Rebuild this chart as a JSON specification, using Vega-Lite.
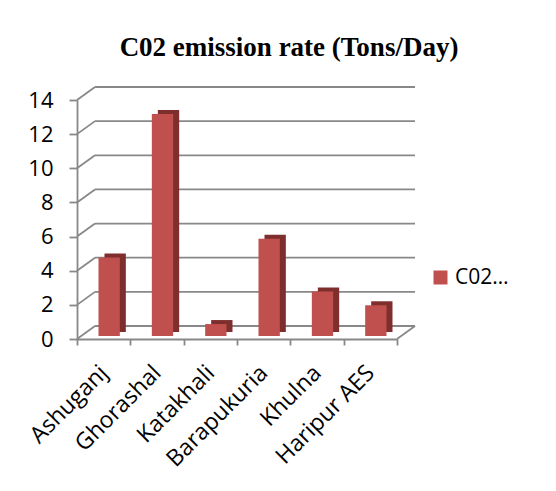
{
  "$schema": "https://vega.github.io/schema/vega-lite/v6.json",
  "width": 320,
  "height": 239,
  "autosize": {"type": "none"},
  "padding": {"left": 77, "top": 100, "right": 159, "bottom": 152},
  "background": "white",
  "title": {
    "text": "C02 emission rate (Tons/Day)",
    "font": "Liberation Serif",
    "fontSize": 27,
    "fontWeight": "bold",
    "color": "black",
    "anchor": "middle",
    "dx": 52,
    "offset": 24
  },
  "datasets": {
    "plants": [
      {"plant": "Ashuganj", "value": 4.6, "series": "C02 emission rate (Tons/Day)"},
      {"plant": "Ghorashal", "value": 13, "series": "C02 emission rate (Tons/Day)"},
      {"plant": "Katakhali", "value": 0.7, "series": "C02 emission rate (Tons/Day)"},
      {"plant": "Barapukuria", "value": 5.7, "series": "C02 emission rate (Tons/Day)"},
      {"plant": "Khulna", "value": 2.6, "series": "C02 emission rate (Tons/Day)"},
      {"plant": "Haripur AES", "value": 1.8, "series": "C02 emission rate (Tons/Day)"}
    ],
    "ticks": [{"t": 0}, {"t": 2}, {"t": 4}, {"t": 6}, {"t": 8}, {"t": 10}, {"t": 12}, {"t": 14}]
  },
  "config": {
    "view": {"stroke": null},
    "font": "Open Sans",
    "axis": {"labelOverlap": false, "labelFlush": false, "labelSeparation": 0, "labelBound": false},
    "axisY": {
      "title": null,
      "values": [0, 2, 4, 6, 8, 10, 12, 14],
      "labelOverlap": false,
      "labelFlush": false,
      "labelFont": "Open Sans",
      "labelFontSize": 22,
      "labelColor": "black",
      "labelPadding": 16,
      "tickSize": 8,
      "tickColor": "#888888",
      "tickWidth": 1.8,
      "domainColor": "#888888",
      "domainWidth": 1.8,
      "grid": false
    },
    "axisX": {
      "title": null,
      "labelAngle": -45,
      "labelAlign": "right",
      "labelBaseline": "middle",
      "labelFont": "Open Sans",
      "labelFontSize": 23,
      "labelColor": "black",
      "labelPadding": 24,
      "labelOverlap": false,
      "labelLimit": 300,
      "tickBand": "extent",
      "tickSize": 6,
      "tickColor": "#888888",
      "tickWidth": 1.8,
      "domainColor": "#888888",
      "domainWidth": 1.8,
      "grid": false
    }
  },
  "layer": [
    {
      "data": {"name": "ticks"},
      "mark": {"type": "rule", "color": "#888888", "strokeWidth": 1.8, "yOffset": -13},
      "encoding": {
        "x": {"datum": "Ashuganj", "bandPosition": 0.3375, "type": "nominal", "title": null},
        "x2": {"datum": "Haripur AES", "bandPosition": 1.3375},
        "y": {"field": "t", "type": "quantitative", "title": null}
      }
    },
    {
      "data": {"name": "ticks"},
      "mark": {"type": "rule", "color": "#888888", "strokeWidth": 1.8, "y2Offset": -13},
      "encoding": {
        "x": {"datum": "Ashuganj", "bandPosition": 0, "type": "nominal", "title": null},
        "x2": {"datum": "Ashuganj", "bandPosition": 0.3375},
        "y": {"field": "t", "type": "quantitative", "title": null},
        "y2": {"field": "t"}
      }
    },
    {
      "data": {"name": "ticks"},
      "transform": [{"filter": "datum.t == 0"}],
      "mark": {"type": "rule", "color": "#888888", "strokeWidth": 1.8, "y2Offset": -13},
      "encoding": {
        "x": {"datum": "Haripur AES", "bandPosition": 1, "type": "nominal", "title": null},
        "x2": {"datum": "Haripur AES", "bandPosition": 1.3375},
        "y": {"field": "t", "type": "quantitative", "title": null},
        "y2": {"field": "t"}
      }
    },
    {
      "data": {"name": "plants"},
      "mark": {"type": "bar", "color": "#7e2f2d", "width": {"band": 0.4}, "xOffset": 11.5, "x2Offset": 11.5, "yOffset": -7, "y2Offset": -7},
      "encoding": {
        "x": {"field": "plant", "type": "nominal", "title": null},
        "y": {"field": "value", "type": "quantitative", "title": null}
      }
    },
    {
      "data": {"name": "plants"},
      "mark": {"type": "bar", "width": {"band": 0.4}, "xOffset": 5.5, "x2Offset": 5.5, "yOffset": -3, "y2Offset": -3},
      "encoding": {
        "x": {
          "field": "plant",
          "type": "nominal",
          "title": null,
          "scale": {
            "domain": ["Ashuganj", "Ghorashal", "Katakhali", "Barapukuria", "Khulna", "Haripur AES"],
            "paddingInner": 0,
            "paddingOuter": 0
          }
        },
        "y": {
          "field": "value",
          "type": "quantitative",
          "title": null,
          "scale": {"domain": [0, 14], "nice": false, "zero": true}
        },
        "color": {
          "field": "series",
          "type": "nominal",
          "scale": {"range": ["#c0504d"]},
          "legend": {
            "title": null,
            "orient": "none",
            "legendX": 353,
            "legendY": 167,
            "symbolType": "square",
            "symbolSize": 196,
            "symbolStrokeWidth": 0,
            "symbolOpacity": 1,
            "labelFont": "Open Sans",
            "labelFontSize": 21,
            "labelColor": "black",
            "labelLimit": 58,
            "labelOffset": 4
          }
        }
      }
    }
  ]
}
